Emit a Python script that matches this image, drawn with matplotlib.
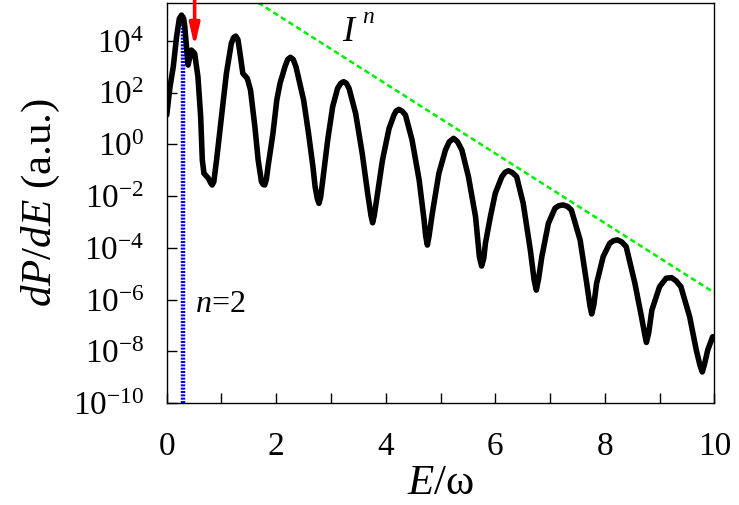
import numpy as np
import matplotlib
matplotlib.use('Agg')
import matplotlib.pyplot as plt
from matplotlib.ticker import FixedLocator, LogFormatterSciNotation

plt.rcParams['font.family'] = ['Liberation Serif', 'DejaVu Serif']
plt.rcParams['mathtext.fontset'] = 'custom'
plt.rcParams['mathtext.rm'] = 'Liberation Serif'
plt.rcParams['mathtext.it'] = 'Liberation Serif:italic'
plt.rcParams['axes.unicode_minus'] = False

# spectrum: E/omega and log10(dP/dE)
E = [0.00, 0.06, 0.12, 0.18, 0.23, 0.27, 0.31, 0.33, 0.39, 0.45, 0.51, 0.57, 0.62, 0.65, 0.68, 0.76, 0.80, 0.83, 0.86,
     0.91, 1.00, 1.09, 1.18, 1.22, 1.26, 1.30, 1.33, 1.39, 1.47, 1.53, 1.61, 1.67, 1.73, 1.76, 1.79, 1.82,
     1.85, 1.94, 2.01, 2.07, 2.16, 2.21, 2.26, 2.31, 2.36, 2.50, 2.59, 2.67, 2.71, 2.75, 2.78, 2.81,
     2.85, 2.94, 3.03, 3.12, 3.18, 3.23, 3.28, 3.33, 3.45, 3.57, 3.67, 3.73, 3.76, 3.79,
     3.85, 3.94, 4.06, 4.15, 4.19, 4.24, 4.30, 4.36, 4.48, 4.61, 4.70, 4.73, 4.76, 4.79,
     4.85, 4.97, 5.09, 5.16, 5.24, 5.31, 5.39, 5.51, 5.64, 5.71, 5.75, 5.79,
     5.82, 5.91, 6.00, 6.12, 6.18, 6.24, 6.31, 6.39, 6.51, 6.64, 6.71, 6.75, 6.79,
     6.85, 6.97, 7.09, 7.16, 7.24, 7.32, 7.39, 7.55, 7.67, 7.73, 7.76, 7.80,
     7.85, 7.97, 8.09, 8.16, 8.23, 8.31, 8.39, 8.55, 8.67, 8.73, 8.76, 8.80,
     8.86, 9.00, 9.12, 9.22, 9.30, 9.39, 9.55, 9.67, 9.74, 9.78, 9.82, 9.88, 9.97]
logP = [1.13, 2.22, 3.00, 4.15, 4.85, 4.99, 4.85, 4.54, 3.06, 3.64, 3.51, 2.61, 1.07, -0.61, -1.12, -1.31, -1.48, -1.57, -1.45,
        -0.61, 1.07, 2.74, 3.90, 4.12, 4.18, 4.05, 3.64, 2.74, 2.55, 2.10, 0.68, -0.61, -1.44, -1.55, -1.57, -1.35,
        -0.86, 0.42, 1.71, 2.36, 3.00, 3.28, 3.36, 3.28, 3.00, 1.71, 0.42, -0.86, -1.64, -2.10, -2.28, -2.05,
        -1.38, 0.17, 1.45, 2.16, 2.36, 2.42, 2.36, 2.16, 1.19, -0.35, -1.90, -2.75, -3.03, -2.75,
        -1.90, -0.61, 0.61, 1.13, 1.29, 1.35, 1.28, 1.13, 0.17, -1.38, -2.93, -3.55, -3.89, -3.55,
        -2.67, -1.12, -0.22, 0.10, 0.23, 0.10, -0.22, -1.25, -2.80, -4.35, -4.70, -4.40,
        -3.82, -2.80, -1.89, -1.25, -1.08, -1.02, -1.09, -1.25, -2.28, -4.08, -5.25, -5.63, -5.20,
        -4.34, -3.05, -2.47, -2.37, -2.34, -2.40, -2.54, -3.70, -5.37, -6.25, -6.55, -6.20,
        -5.37, -4.34, -3.82, -3.72, -3.69, -3.77, -3.95, -5.37, -6.66, -7.35, -7.65, -7.30,
        -6.40, -5.50, -5.17, -5.15, -5.27, -5.50, -6.66, -7.94, -8.55, -8.79, -8.50, -7.94, -7.43]

# I^n guide line (end points)
guide_x = [1.67, 10.0]
guide_y = [2.95e5, 1.86e-6]

n2_x = 0.30        # blue dotted line
n2_top = 9.8e4
arrow_x = 0.51     # red arrow
arrow_tip = 5.9e3

fig = plt.figure(figsize=(7.39, 5.05), dpi=100)
ax = fig.add_axes([0.2256, 0.2014, 0.741, 0.7933])

ax.plot(E, 10.0 ** np.array(logP), color='black', lw=4.0, solid_joinstyle='round',
        solid_capstyle='round', zorder=3)
ax.plot(guide_x, guide_y, color='#00ee00', lw=1.8, ls=(0, (2.2, 1.4)), zorder=2)
ax.plot([n2_x, n2_x], [1e-10, n2_top], color='#0000ee', lw=3.2, ls=(0, (0.45, 0.3)), zorder=2)

ax.annotate('', xy=(arrow_x, arrow_tip), xytext=(arrow_x, 5e5),
            arrowprops=dict(arrowstyle='-|>,head_width=0.3,head_length=1.3',
                            color='red', lw=2.6, shrinkA=0, shrinkB=0),
            annotation_clip=False, zorder=4)

ax.text(3.21, 1e4, r'$I$', fontsize=26, ha='left', va='baseline')
ax.text(3.57, 10 ** 4.68, r'$n$', fontsize=17, ha='left', va='baseline')
ax.text(0.51, 10 ** -6.46, r'$n$=2', fontsize=23, ha='left', va='baseline')

ax.set_yscale('log')
ax.set_xlim(0, 10)
ax.set_ylim(1e-10, 2.95e5)
ax.xaxis.set_major_locator(FixedLocator([0, 2, 4, 6, 8, 10]))
ax.xaxis.set_minor_locator(FixedLocator([1, 3, 5, 7, 9]))
ax.yaxis.set_major_locator(FixedLocator([10.0 ** k for k in range(-10, 5, 2)]))
ax.yaxis.set_minor_locator(FixedLocator([]))
ax.yaxis.set_major_formatter(LogFormatterSciNotation())
ax.tick_params(which='both', direction='in', length=7, width=1, top=False, right=False)
ax.tick_params(axis='x', which='major', pad=20, labelsize=24)
ax.tick_params(axis='y', which='major', pad=16, labelsize=24)
for s in ax.spines.values():
    s.set_linewidth(1.0)

ax.set_xlabel(r'$E$/ω', fontsize=31, labelpad=2)
ax.set_ylabel(r'$dP/dE$ (a.u.)', fontsize=31, labelpad=8)

fig.savefig('out.png', dpi=100)
